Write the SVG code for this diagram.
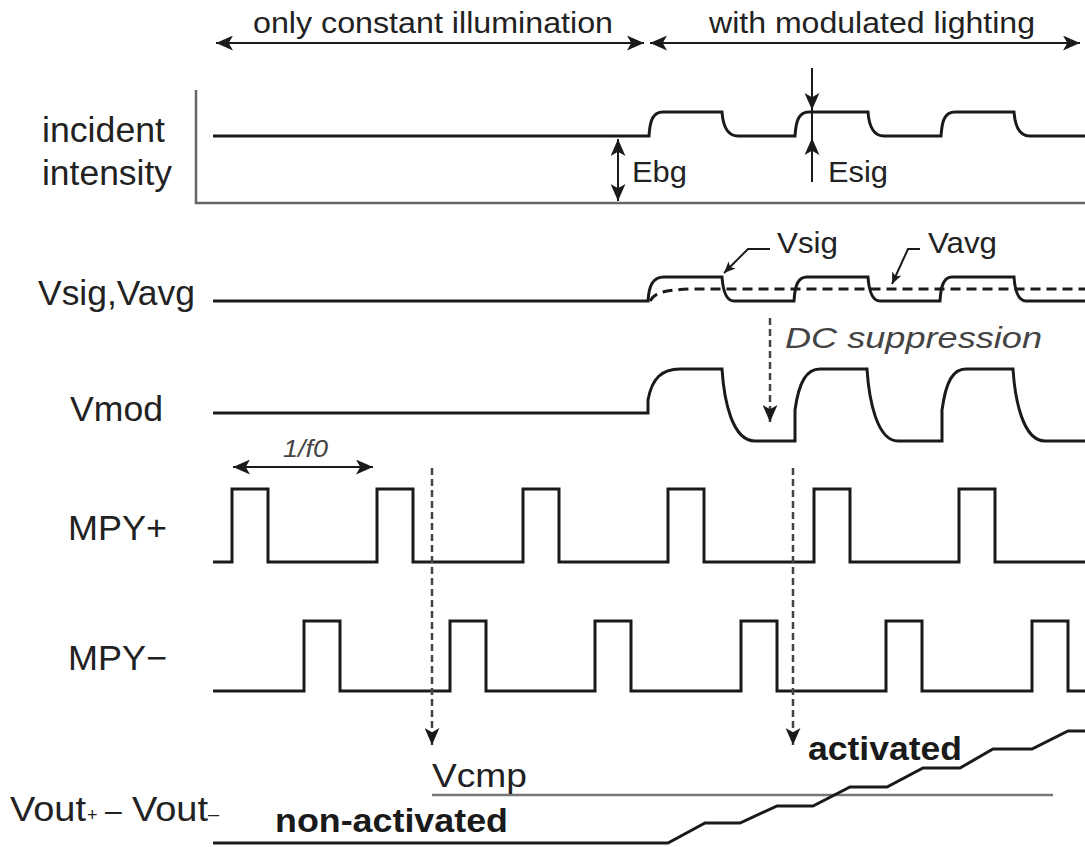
<svg xmlns="http://www.w3.org/2000/svg" width="1085" height="847" viewBox="0 0 1085 847">
  <style>
    .sig { fill: none; stroke: #1a1a1a; stroke-width: 3; stroke-linejoin: miter; }
    .axis { fill: none; stroke: #666; stroke-width: 2.5; }
    .arr { fill: none; stroke: #1a1a1a; stroke-width: 2; }
    .dash { fill: none; stroke: #444; stroke-width: 2.5; stroke-dasharray: 7 4; }
    .avg { fill: none; stroke: #1a1a1a; stroke-width: 3; stroke-dasharray: 10 6; }
    .ref { fill: none; stroke: #777; stroke-width: 2.5; }
    text { font-family: "Liberation Sans", Arial, sans-serif; fill: #222; }
    .lbl { font-size: 35px; }
    .top { font-size: 30px; }
    .ann { font-size: 30px; }
    .it { font-style: italic; fill: #444; }
    .bold { font-weight: bold; font-size: 34px; fill: #1a1a1a; }
  </style>
  <defs>
    <marker id="ah" viewBox="0 0 16 14" refX="16" refY="7" markerWidth="17" markerHeight="15" markerUnits="userSpaceOnUse" orient="auto-start-reverse">
      <path d="M0,0 L16,7 L0,14 L4,7 z" fill="#1a1a1a"/>
    </marker>
    <marker id="ahs" viewBox="0 0 16 14" refX="16" refY="7" markerWidth="12" markerHeight="10" markerUnits="userSpaceOnUse" orient="auto-start-reverse">
      <path d="M0,0 L16,7 L0,14 L4,7 z" fill="#1a1a1a"/>
    </marker>
  </defs>

  <!-- phase headings -->
  <g id="phase-constant">
    <text class="top" x="253" y="33" textLength="360" lengthAdjust="spacingAndGlyphs">only constant illumination</text>
  </g>
  <g id="phase-modulated">
    <text class="top" x="709" y="33" textLength="326" lengthAdjust="spacingAndGlyphs">with modulated lighting</text>
  </g>

  <!-- incident intensity trace with axes -->
  <g id="incident-intensity">
    <text class="lbl" x="42" y="142" textLength="123" lengthAdjust="spacingAndGlyphs">incident</text>
    <text class="lbl" x="42" y="185" textLength="130" lengthAdjust="spacingAndGlyphs">intensity</text>
    <path class="axis" d="M196,90 L196,203 L1085,203"/>
    <path class="sig" d="M213,136 L649,136 C650,120 653,112 663,112 L722,112 C723,126 727,136 738,136 L795,136 C796,120 799,112 809,112 L868,112 C869,126 873,136 884,136 L941,136 C942,120 945,112 955,112 L1014,112 C1015,126 1019,136 1030,136 L1085,136"/>
    <text class="ann" x="632" y="182" textLength="55" lengthAdjust="spacingAndGlyphs">Ebg</text>
    <text class="ann" x="828" y="182" textLength="60" lengthAdjust="spacingAndGlyphs">Esig</text>
  </g>

  <!-- Vsig and Vavg traces -->
  <g id="vsig-vavg">
    <text class="lbl" x="38" y="305" textLength="157" lengthAdjust="spacingAndGlyphs">Vsig,Vavg</text>
    <path class="sig" d="M213,301 L648,301 C649,285 653,277 664,277 L722,277 C723,291 726,301 734,301 L794,301 C795,285 798,277 807,277 L868,277 C869,291 872,301 880,301 L940,301 C941,285 944,277 952,277 L1014,277 C1015,291 1018,301 1026,301 L1085,301"/>
    <path class="avg" d="M650,301 C655,292 665,290 690,289 L1085,289"/>
    <text class="ann" x="777" y="253" textLength="61" lengthAdjust="spacingAndGlyphs">Vsig</text>
    <text class="ann" x="928" y="253" textLength="69" lengthAdjust="spacingAndGlyphs">Vavg</text>
  </g>

  <!-- Vmod trace -->
  <g id="vmod">
    <text class="lbl" x="70" y="421" textLength="93" lengthAdjust="spacingAndGlyphs">Vmod</text>
    <path class="sig" d="M213,413 L648,413 L648,400 C652,378 662,369 680,369 L722,369 C724,400 732,441 755,441 L795,441 L795,410 C799,381 807,369 820,369 L867,369 C869,400 877,441 898,441 L942,441 L942,410 C946,381 953,369 966,369 L1013,369 C1015,400 1023,441 1045,441 L1085,441"/>
    <text class="ann it" x="785" y="348" font-size="31" textLength="257" lengthAdjust="spacingAndGlyphs">DC suppression</text>
  </g>

  <!-- multiplier clocks -->
  <g id="mpy-plus">
    <text class="lbl" x="68" y="540" textLength="99" lengthAdjust="spacingAndGlyphs">MPY+</text>
    <path class="sig" d="M213,562 L232,562 L232,489 L268,489 L268,562 L377,562 L377,489 L413,489 L413,562 L523,562 L523,489 L559,489 L559,562 L668,562 L668,489 L704,489 L704,562 L814,562 L814,489 L850,489 L850,562 L959,562 L959,489 L995,489 L995,562 L1085,562"/>
    <text class="it" x="283" y="457" font-size="24" textLength="45" lengthAdjust="spacingAndGlyphs">1/f0</text>
  </g>
  <g id="mpy-minus">
    <text class="lbl" x="68" y="670" textLength="99" lengthAdjust="spacingAndGlyphs">MPY−</text>
    <path class="sig" d="M213,691 L304,691 L304,621 L340,621 L340,691 L450,691 L450,621 L486,621 L486,691 L595,691 L595,621 L631,621 L631,691 L741,691 L741,621 L777,621 L777,691 L886,691 L886,621 L922,621 L922,691 L1032,691 L1032,621 L1068,621 L1068,691 L1085,691"/>
  </g>

  <!-- correlator output against threshold -->
  <g id="vout">
    <text class="lbl" y="821"><tspan x="10" textLength="76" lengthAdjust="spacingAndGlyphs">Vout</tspan><tspan x="87" font-size="18">+</tspan><tspan x="105" font-size="30">–</tspan><tspan x="132" textLength="76" lengthAdjust="spacingAndGlyphs">Vout</tspan><tspan x="208" font-size="20">–</tspan></text>
    <path class="ref" d="M432,795 L1053,795"/>
    <text x="432" y="787" font-size="34" fill="#333" textLength="95" lengthAdjust="spacingAndGlyphs">Vcmp</text>
    <path class="sig" d="M213,843 L668,843 L705,823 L740,823 L777,806 L813,806 L850,787 L887,787 L923,768 L960,768 L993,749 L1032,749 L1068,731 L1085,731"/>
    <text class="bold" x="275" y="832" textLength="233" lengthAdjust="spacingAndGlyphs">non-activated</text>
    <text class="bold" x="808" y="760" textLength="154" lengthAdjust="spacingAndGlyphs">activated</text>
  </g>

  <!-- arrows, leaders and dashed connectors -->
  <g id="connectors">
    <line class="arr" x1="216" y1="43" x2="644" y2="43" marker-start="url(#ah)" marker-end="url(#ah)"/>
    <line class="arr" x1="650" y1="43" x2="1080" y2="43" marker-start="url(#ah)" marker-end="url(#ah)"/>
    <line class="arr" x1="618" y1="139" x2="618" y2="201" marker-start="url(#ah)" marker-end="url(#ah)"/>
    <line class="arr" x1="812" y1="68" x2="812" y2="110" marker-end="url(#ah)"/>
    <line class="arr" x1="812" y1="110" x2="812" y2="138"/>
    <line class="arr" x1="812" y1="182" x2="812" y2="138" marker-end="url(#ah)"/>
    <polyline class="arr" points="770,249 748,249 724,273" marker-end="url(#ahs)"/>
    <polyline class="arr" points="920,249 908,249 892,284" marker-end="url(#ahs)"/>
    <line class="dash" x1="770" y1="318" x2="770" y2="422" marker-end="url(#ah)"/>
    <line class="arr" x1="233" y1="467" x2="373" y2="467" marker-start="url(#ah)" marker-end="url(#ah)"/>
    <line class="dash" x1="432" y1="468" x2="432" y2="745" marker-end="url(#ah)"/>
    <line class="dash" x1="793" y1="468" x2="793" y2="745" marker-end="url(#ah)"/>
  </g>
</svg>
